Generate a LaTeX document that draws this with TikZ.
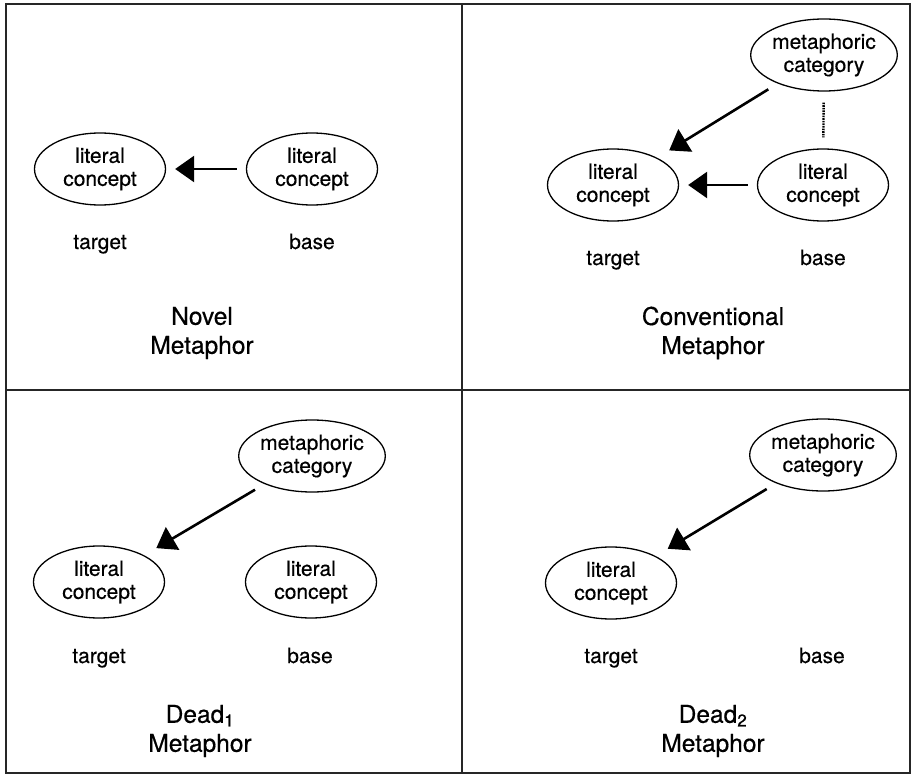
\documentclass[tikz,border=0pt]{standalone}
\usepackage{fontspec}
\setmainfont[FakeBold=0.5]{TeX Gyre Heros}
\usetikzlibrary{arrows.meta,shapes.geometric}
\begin{document}
\begin{tikzpicture}[x=1pt,y=-1pt,
  concept/.style={ellipse,draw,line width=1.3pt,minimum width=131pt,minimum height=72pt,inner sep=0pt,align=center,font=\fontsize{21}{23}\selectfont},
  lbl/.style={font=\fontsize{21}{23}\selectfont,inner sep=0pt,anchor=base},
  ttl/.style={align=center,font=\fontsize{24.5}{29}\selectfont,inner sep=0pt},
  maparrow/.style={line width=2.6pt,-{Triangle[length=19pt,width=26pt]}},
  horiz/.style={maparrow,shorten <=9pt,shorten >=9pt},
  diag/.style={maparrow,shorten <=11pt,shorten >=14pt},
  linkline/.style={line width=2.4pt,dash pattern=on 1.6pt off 1pt},
  frameline/.style={line width=1.6pt,draw=black!85}]
\useasboundingbox (0,0) rectangle (912,775);
% frame
\draw[frameline] (6,4) rectangle (910,773);
\draw[frameline] (462,4) -- (462,773);
\draw[frameline] (6,390) -- (910,390);

% Panel 1: Novel metaphor
\node[concept] (t1) at (100,169) {literal\\concept};
\node[concept] (b1) at (312,169) {literal\\concept};
\draw[horiz] (b1) -- (t1);
\node[lbl] (tl1) at (100,249) {target};
\node[lbl] (bl1) at (312,249) {base};
\node[ttl] (n1) at (202,333) {Novel\\Metaphor};

% Panel 2: Conventional metaphor
\node[concept] (m2) at (824,55) {metaphoric\\category};
\node[concept] (t2) at (613,185) {literal\\concept};
\node[concept] (b2) at (823,185) {literal\\concept};
\draw[horiz] (b2) -- (t2);
\draw[diag] (m2) -- (t2);
\draw[linkline,shorten <=11pt,shorten >=11pt] (m2) -- (b2);
\node[lbl] (tl2) at (613,265) {target};
\node[lbl] (bl2) at (823,265) {base};
\node[ttl] (n2) at (713,333) {Conventional\\Metaphor};

% Panel 3: Dead1 metaphor
\node[concept] (m3) at (312,456) {metaphoric\\category};
\node[concept] (t3) at (99,582) {literal\\concept};
\node[concept] (b3) at (311,582) {literal\\concept};
\draw[diag] (m3) -- (t3);
\node[lbl] (tl3) at (99,663) {target};
\node[lbl] (bl3) at (310,663) {base};
\node[ttl] (n3) at (200,731) {Dead\textsubscript{1}\\Metaphor};

% Panel 4: Dead2 metaphor
\node[concept] (m4) at (823,455) {metaphoric\\category};
\node[concept] (t4) at (611,583) {literal\\concept};
\draw[diag] (m4) -- (t4);
\node[lbl] (tl4) at (611,663) {target};
\node[lbl] (bl4) at (822,663) {base};
\node[ttl] (n4) at (713,731) {Dead\textsubscript{2}\\Metaphor};
\end{tikzpicture}
\end{document}
